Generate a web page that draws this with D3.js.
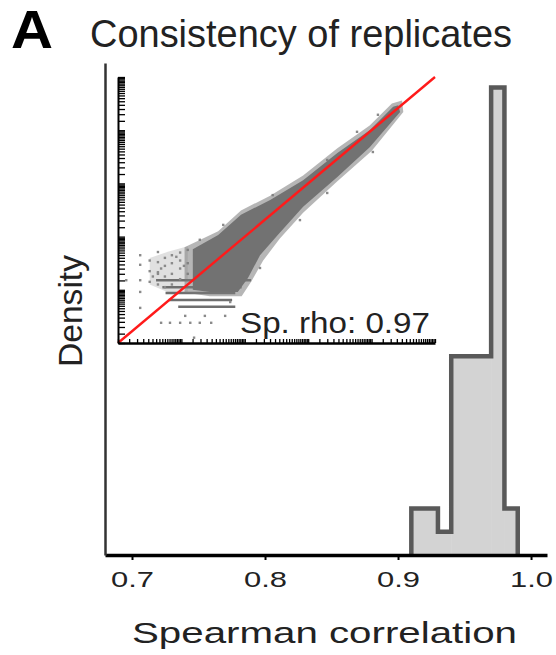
<!DOCTYPE html>
<html>
<head>
<meta charset="utf-8">
<script src="https://cdn.jsdelivr.net/npm/d3@7"></script>
<style>
  body { margin: 0; background: #fff; }
  text { font-family: "Liberation Sans", Arial, sans-serif; }
</style>
</head>
<body>
<div id="chart"></div>
<script>
// histogram of replicate correlations (left edges, width 0.01) and densities
const binStarts = [0.91, 0.92, 0.93, 0.94, 0.95, 0.96, 0.97, 0.98];
const binWidth = 0.01;
const densities = [3.8, 3.8, 1.9, 16.2, 16.2, 16.2, 38.1, 3.8];
const xTicks = [0.7, 0.8, 0.9, 1.0];

// inset scatter, log10 expression of replicate 1 vs replicate 2
// dense cloud outline: upper edge then lower edge
const cloudUpper = [[1.18, 1.76], [1.58, 2.03], [1.94, 2.41], [2.40, 2.69], [2.92, 3.06],
  [3.46, 3.57], [3.97, 4.00], [4.34, 4.44], [4.42, 4.47]];
const cloudLower = [[4.45, 4.34], [3.97, 3.68], [3.46, 3.12], [2.92, 2.56], [2.52, 2.03],
  [2.24, 1.65], [2.05, 1.22], [1.89, 0.96], [1.45, 0.96], [1.18, 1.0]];
// fuzzy edge around the cloud
const haloUpper = [[1.05, 1.80], [1.58, 2.10], [1.94, 2.49], [2.40, 2.77], [2.92, 3.15],
  [3.46, 3.66], [3.97, 4.09], [4.32, 4.50], [4.48, 4.56]];
const haloLower = [[4.50, 4.34], [4.0, 3.61], [3.46, 3.04], [2.92, 2.45], [2.55, 1.96],
  [2.29, 1.55], [2.10, 1.15], [1.95, 0.88], [1.45, 0.88], [1.05, 0.95]];
// sparse low-expression region
const sparseRegion = [[0.5, 1.6], [0.8, 1.72], [1.1, 1.82], [1.1, 0.95], [0.8, 0.95], [0.5, 1.1]];
// horizontal streaks: [x0, x1, y]
const streaks = [[0.6, 2.1, 1.18], [0.7, 1.95, 1.05], [0.75, 1.85, 0.94], [0.8, 1.8, 0.81], [0.95, 1.85, 0.68]];
const dots = [[0.68, 0.38], [0.82, 0.38], [0.98, 0.38], [1.14, 0.38], [1.29, 0.38], [1.47, 0.38],
  [1.06, 0.51], [1.37, 0.51], [1.69, 0.51], [0.35, 1.65], [0.35, 1.47], [0.35, 1.18],
  [0.35, 0.96], [0.35, 0.66], [0.13, 1.18], [0.63, 1.71], [0.63, 1.52], [0.63, 1.33],
  [1.29, 1.94], [1.66, 2.22], [2.44, 2.78], [3.30, 3.44], [3.77, 3.97], [4.10, 4.29],
  [2.87, 2.31], [3.30, 2.82], [4.02, 3.59], [2.24, 1.41], [1.77, 0.77], [1.2, 0.1],
  [0.5, 1.15], [0.5, 1.35], [0.5, 1.55], [0.63, 1.1], [0.63, 1.3], [0.74, 1.05], [0.74, 1.25],
  [0.74, 1.45], [0.74, 1.6], [0.85, 1.1], [0.85, 1.3], [0.85, 1.5], [0.85, 1.65],
  [0.98, 1.2], [0.98, 1.4], [0.98, 1.55], [0.98, 1.7], [1.1, 1.3], [1.1, 1.5], [1.1, 1.75],
  [0.55, 1.25], [0.68, 1.4], [0.92, 1.62], [1.04, 1.45]];
const rhoLabel = "Sp. rho: 0.97";

const svg = d3.select("#chart").append("svg")
  .attr("width", 556)
  .attr("height", 655);

var x = d3.scaleLinear().domain([0.6797, 1.012]).range([105, 547]);
var y = d3.scaleLinear().domain([0, 40.1]).range([555, 63]);

// bar fill
svg.selectAll("rect.bar")
  .data(binStarts)
  .enter()
  .append("rect")
  .attr("class", "bar")
  .attr("x", d => x(d))
  .attr("width", d => x(d + binWidth) - x(d) + 0.5)
  .attr("y", (d, i) => y(densities[i]))
  .attr("height", (d, i) => y(0) - y(densities[i]))
  .style("fill", "#d3d3d3");

// step outline
var outline = [[binStarts[0], 0]];
binStarts.forEach(function(d, i) {
  outline.push([d, densities[i]]);
  outline.push([d + binWidth, densities[i]]);
});
outline.push([binStarts[binStarts.length - 1] + binWidth, 0]);
svg.append("path")
  .attr("d", d3.line().x(d => x(d[0])).y(d => y(d[1]))(outline))
  .style("fill", "none")
  .style("stroke", "#595959")
  .style("stroke-width", 4.5)
  .style("stroke-linejoin", "miter");

// axes
var xAxis = svg.append("g")
  .attr("transform", "translate(0,555)")
  .call(d3.axisBottom(x).tickValues(xTicks).tickFormat(d3.format(".1f"))
    .tickSize(5).tickSizeOuter(0).tickPadding(11));
xAxis.select(".domain").style("stroke-width", 3.5);
xAxis.selectAll(".tick line").style("stroke-width", 2);
xAxis.selectAll("text")
  .style("font-size", "22px")
  .style("fill", "#222")
  .attr("textLength", 43)
  .attr("lengthAdjust", "spacingAndGlyphs");

var yAxis = svg.append("g")
  .attr("transform", "translate(105,0)")
  .call(d3.axisLeft(y).tickValues([]).tickSizeOuter(0));
yAxis.select(".domain").style("stroke", "#333").style("stroke-width", 2.5);

// inset
var xi = d3.scaleLinear().domain([0, 5]).range([118, 435]);
var yi = d3.scaleLinear().domain([0, 5]).range([343, 77]);
var xiLog = d3.scaleLog().domain([1, 1e5]).range([118, 435]);
var yiLog = d3.scaleLog().domain([1, 1e5]).range([343, 77]);

// rug style log ticks: half steps within every decade
var rugTicks = [];
d3.range(0, 5).forEach(function(k) {
  d3.range(1, 10, 0.5).forEach(function(m) { rugTicks.push(m * Math.pow(10, k)); });
});
rugTicks.push(1e5);

var inset = svg.append("g");
var area = d3.line().curve(d3.curveLinearClosed).x(d => xi(d[0])).y(d => yi(d[1]));

inset.append("path")
  .attr("d", area(sparseRegion))
  .style("fill", "#999")
  .style("opacity", 0.3);

inset.selectAll("line.streak")
  .data(streaks)
  .enter()
  .append("line")
  .attr("x1", d => xi(d[0]))
  .attr("x2", d => xi(d[1]))
  .attr("y1", d => yi(d[2]))
  .attr("y2", d => yi(d[2]))
  .style("stroke", "#6e6e6e")
  .style("stroke-width", 2.5);

inset.selectAll("rect.dot")
  .data(dots)
  .enter()
  .append("rect")
  .attr("x", d => xi(d[0]) - 1.2)
  .attr("y", d => yi(d[1]) - 1.2)
  .attr("width", 2.4)
  .attr("height", 2.4)
  .style("fill", "#8a8a8a");

inset.append("path")
  .attr("d", area(haloUpper.concat(haloLower)))
  .style("fill", "#7a7a7a")
  .style("opacity", 0.55);
inset.append("path")
  .attr("d", area(cloudUpper.concat(cloudLower)))
  .style("fill", "#727272");

inset.append("line")
  .attr("x1", xiLog(1)).attr("y1", yiLog(1))
  .attr("x2", xiLog(1e5)).attr("y2", yiLog(1e5))
  .style("stroke", "#ff1a1a")
  .style("stroke-width", 2.4);

var iy = inset.append("g")
  .attr("transform", "translate(118,0)")
  .call(d3.axisLeft(yiLog).tickValues(rugTicks).tickFormat("").tickSize(-7).tickSizeOuter(0));
var ix = inset.append("g")
  .attr("transform", "translate(0,343)")
  .call(d3.axisBottom(xiLog).tickValues(rugTicks).tickFormat("").tickSize(-4).tickSizeOuter(0));
iy.select(".domain").style("stroke-width", 2);
ix.select(".domain").style("stroke-width", 2.5);
inset.selectAll(".tick line").style("stroke-width", 1.3);

inset.append("text")
  .attr("x", 240)
  .attr("y", 333)
  .attr("textLength", 190)
  .attr("lengthAdjust", "spacingAndGlyphs")
  .style("font-size", "29px")
  .style("fill", "#222")
  .text(rhoLabel);

// titles
svg.append("text")
  .attr("x", 11)
  .attr("y", 48)
  .attr("textLength", 42)
  .attr("lengthAdjust", "spacingAndGlyphs")
  .style("font-size", "54px")
  .style("font-weight", "bold")
  .text("A");

svg.append("text")
  .attr("x", 90)
  .attr("y", 47)
  .attr("textLength", 422)
  .attr("lengthAdjust", "spacingAndGlyphs")
  .style("font-size", "39px")
  .style("fill", "#222")
  .text("Consistency of replicates");

svg.append("text")
  .attr("x", 132)
  .attr("y", 643)
  .attr("textLength", 385)
  .attr("lengthAdjust", "spacingAndGlyphs")
  .style("font-size", "30px")
  .style("fill", "#222")
  .text("Spearman correlation");

svg.append("text")
  .attr("transform", "translate(82,367) rotate(-90)")
  .attr("textLength", 112)
  .attr("lengthAdjust", "spacingAndGlyphs")
  .style("font-size", "34px")
  .style("fill", "#222")
  .text("Density");
</script>
</body>
</html>
